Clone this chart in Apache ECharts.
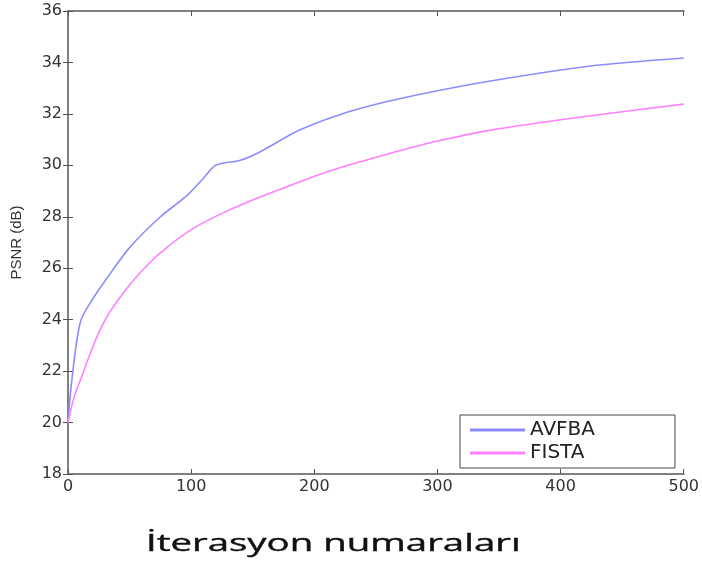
<!DOCTYPE html>
<html>
<head>
<meta charset="utf-8">
<script src="https://cdn.jsdelivr.net/npm/echarts@6/dist/echarts.min.js"></script>
<style>html,body{margin:0;padding:0;background:#fff;}#c{width:702px;height:562px;}</style>
</head>
<body>
<div id="c"></div>
<script>
const avfbaX = [0,3,10,20,30,50,75,96,110,120,140,155,188,220,255,296,342,423,500];
const avfbaY = [20,21.6,23.9,24.8,25.5,26.8,28.0,28.8,29.5,30.0,30.2,30.5,31.37,31.96,32.43,32.86,33.27,33.85,34.17];
const fistaX = [0,5,10,19,26,34,42,50,62,75,100,128,155,196,215,242,270,296,342,423,500];
const fistaY = [20,21.0,21.65,22.8,23.6,24.3,24.85,25.35,26.0,26.6,27.5,28.2,28.75,29.5,29.82,30.2,30.58,30.9,31.36,31.92,32.38];
const seriesNames = ['AVFBA','FISTA'];
const xTitle = 'İterasyon numaraları';
const yTitle = 'PSNR (dB)';

const chart = echarts.init(document.getElementById('c'), null, {renderer:'canvas'});
const axisLine = {show:true, lineStyle:{color:'#808080', width:2}};
const tick = {show:true, inside:true, length:5, lineStyle:{color:'#555', width:1}};
const tickFont = {fontFamily:'DejaVu Sans', fontSize:16, color:'#333'};
chart.setOption({
  animation:false,
  backgroundColor:'#fff',
  graphic:[{
    type:'text', x:146, y:544, scaleX:1.6, scaleY:1,
    style:{text:xTitle, font:'24px "Open Sans"', fill:'#111', align:'left', verticalAlign:'middle',
           stroke:'#111', lineWidth:0.4}
  }],
  grid:{left:68, right:16, top:11, bottom:88},
  legend:{
    data:seriesNames, orient:'vertical', left:460, top:415,
    icon:'rect', itemWidth:55, itemHeight:3, itemGap:3,
    padding:[5,80,5,10],
    borderColor:'#444', borderWidth:1, backgroundColor:'#fff',
    textStyle:{fontFamily:'DejaVu Sans', fontSize:20, color:'#222'}
  },
  xAxis:[
    {type:'value', min:0, max:500, interval:100, position:'bottom',
     axisLine:axisLine, axisTick:tick, splitLine:{show:false},
     axisLabel:Object.assign({margin:5}, tickFont)},
    {type:'value', min:0, max:500, interval:100, position:'top',
     axisLine:axisLine, axisTick:tick, splitLine:{show:false}, axisLabel:{show:false}}
  ],
  yAxis:[
    {type:'value', min:18, max:36, interval:2, position:'left',
     name:yTitle, nameLocation:'middle', nameGap:44,
     nameTextStyle:{fontFamily:'Liberation Sans', fontSize:15, color:'#333'},
     axisLine:axisLine, axisTick:tick, splitLine:{show:false},
     axisLabel:Object.assign({margin:6}, tickFont)},
    {type:'value', min:18, max:36, interval:2, position:'right',
     axisLine:axisLine, axisTick:tick, splitLine:{show:false}, axisLabel:{show:false}}
  ],
  series:[
    {name:seriesNames[0], type:'line', xAxisIndex:0, yAxisIndex:0, smooth:0.3, showSymbol:false,
     data:avfbaX.map((x,i)=>[x,avfbaY[i]]), lineStyle:{color:'#8c8cff', width:1.6}, itemStyle:{color:'#8c8cff'}},
    {name:seriesNames[1], type:'line', xAxisIndex:0, yAxisIndex:0, smooth:0.3, showSymbol:false,
     data:fistaX.map((x,i)=>[x,fistaY[i]]), lineStyle:{color:'#ff80ff', width:1.6}, itemStyle:{color:'#ff80ff'}}
  ]
});
</script>
</body>
</html>
